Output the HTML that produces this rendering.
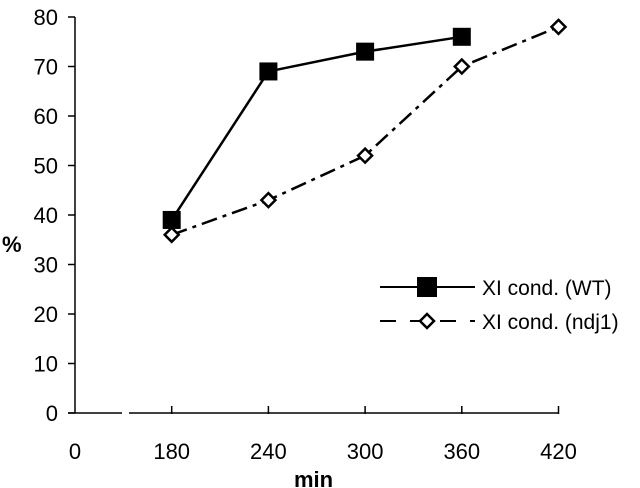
<!DOCTYPE html>
<html><head><style>body{margin:0;background:#fff}svg{display:block;font-family:"Liberation Sans",Arial,sans-serif}</style></head>
<body>
<svg id="c" width="640" height="488">
<g id="axes"></g><g id="marks"></g>
<g>
<line x1="380" y1="287" x2="475" y2="287" stroke="#000" stroke-width="2"/>
<rect x="417" y="277" width="20" height="20" fill="#000"/>
<text x="482" y="295" font-size="21">XI cond. (WT)</text>
<line x1="380" y1="321" x2="475" y2="321" stroke="#000" stroke-width="2" stroke-dasharray="16,14"/>
<polygon points="427,314 434,321 427,328 420,321" fill="#fff" stroke="#000" stroke-width="2.5"/>
<text x="482" y="329" font-size="21">XI cond. (ndj1)</text>
</g>
<text x="2" y="252" font-size="22" font-weight="bold">%</text>
<text x="294" y="487" font-size="22" font-weight="bold">min</text>
</svg>
<script>
const categories=["0","180","240","300","360","420"];
const wt=[null,39,69,73,76,null];
const ndj1=[null,36,43,52,70,78];
const yTicks=[0,10,20,30,40,50,60,70,80];
const NS="http://www.w3.org/2000/svg";
const x=i=>75+96.7*i, y=v=>413-4.95*v;
function mk(t,a,p){const e=document.createElementNS(NS,t);for(const k in a)e.setAttribute(k,a[k]);p.appendChild(e);return e;}
const ax=document.getElementById('axes'), mg=document.getElementById('marks');
let l=mk('line',{x1:75,y1:y(80),x2:75,y2:y(0),stroke:'#000','stroke-width':1.5},ax);


l=mk('line',{x1:68,y1:y(0),x2:122,y2:y(0),stroke:'#000','stroke-width':1.5},ax);


l=mk('line',{x1:129,y1:y(0),x2:x(5),y2:y(0),stroke:'#000','stroke-width':1.5},ax);


yTicks.forEach(v=>{mk('line',{x1:68,y1:y(v),x2:75,y2:y(v),stroke:'#000','stroke-width':1.5},ax);
 const t=mk('text',{x:58,y:y(v)+8,'font-size':22,'text-anchor':'end'},ax);t.textContent=v;
 
 });
categories.forEach((c,i)=>{if(i>0)mk('line',{x1:x(i),y1:y(0)-7,x2:x(i),y2:y(0)+1,stroke:'#000','stroke-width':1.5},ax);
 const t=mk('text',{x:x(i),y:y(0)+46,'font-size':22,'text-anchor':'middle'},ax);t.textContent=c;
 
 });
function series(d,dash,name){const p=[];d.forEach((v,i)=>{if(v!=null)p.push(x(i)+','+y(v));});
 const pl=mk('polyline',{points:p.join(' '),fill:'none',stroke:'#000','stroke-width':2.5,'stroke-dasharray':dash},mg);
 
 }
series(wt,'none','wt');series(ndj1,'16,6,4,6','ndj1');
ndj1.forEach((v,i)=>{if(v==null)return;const cx=x(i),cy=y(v);
 const m=mk('polygon',{points:`${cx},${cy-7} ${cx+7},${cy} ${cx},${cy+7} ${cx-7},${cy}`,fill:'#fff',stroke:'#000','stroke-width':2.5},mg);
 
 });
wt.forEach((v,i)=>{if(v==null)return;
 const m=mk('rect',{x:x(i)-9,y:y(v)-9,width:18,height:18,fill:'#000'},mg);
 
 });
</script>
</body></html>
